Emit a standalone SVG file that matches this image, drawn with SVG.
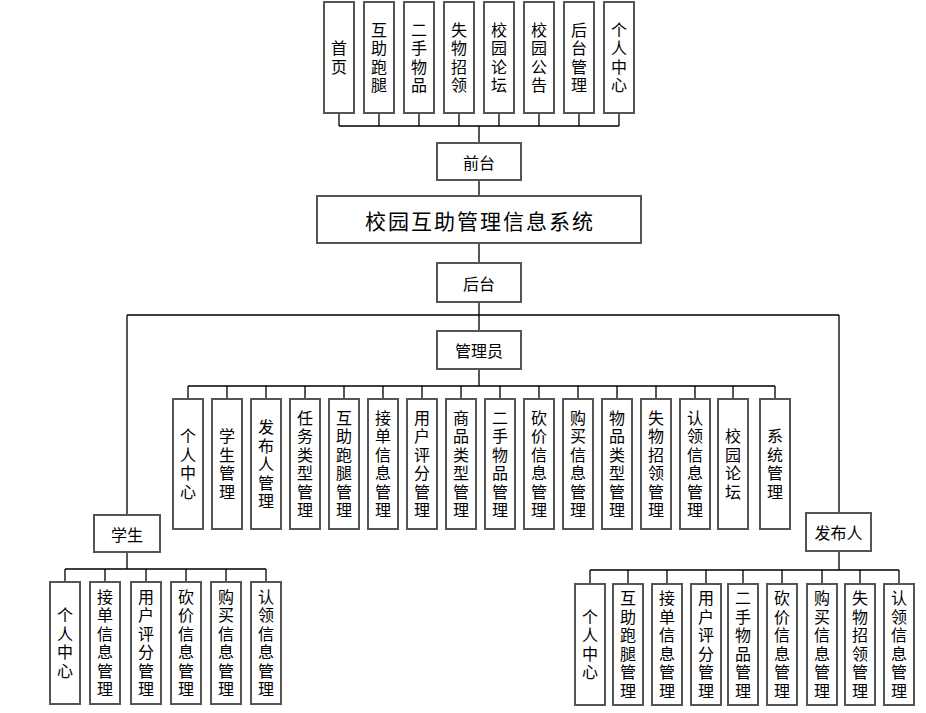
<svg xmlns="http://www.w3.org/2000/svg" width="926" height="713" viewBox="0 0 926 713">
<style>
.b{fill:#fff;stroke:#555;stroke-width:2}
.c{fill:none;stroke:#000;stroke-width:1.3}
text{font-family:"Noto Sans CJK SC","Noto Sans CJK JP",sans-serif;font-size:16px;fill:#000;text-anchor:middle}
.h{dominant-baseline:central}
.v{writing-mode:vertical-rl;letter-spacing:2.5px}
.t{font-size:21px;letter-spacing:2px}
</style>
<rect width="926" height="713" fill="#fff"/>
<g id="connectors" class="c">
<path d="M339 113V126M379 113V126M419 113V126M459 113V126M499 113V126M539 113V126M579 113V126M619 113V126M339 126H619M479 126V143M479 180V196M479 243V263M479 302V331"/>
<path d="M127 315H839M127 315V515M839 315V513"/>
<path d="M479 369V386M188 386H775M188 386V399M227 386V399M266 386V399M305 386V399M344 386V399M383 386V399M422 386V399M461 386V399M500 386V399M539 386V399M578 386V399M617 386V399M656 386V399M695 386V399M733 386V399M775 386V399"/>
<path d="M127 552V569M65 569H266M65 569V582M105 569V582M146 569V582M186 569V582M226 569V582M266 569V582"/>
<path d="M839 551V570M590 570H899M590 570V584M628 570V584M667 570V584M706 570V584M743 570V584M782 570V584M822 570V584M860 570V584M899 570V584"/>
</g>
<g id="top-首页"><rect class="b" x="324" y="2" width="30" height="111"/><text class="v" x="339" y="58.75">首页</text></g>
<g id="top-互助跑腿"><rect class="b" x="364" y="2" width="30" height="111"/><text class="v" x="379" y="58.75">互助跑腿</text></g>
<g id="top-二手物品"><rect class="b" x="404" y="2" width="30" height="111"/><text class="v" x="419" y="58.75">二手物品</text></g>
<g id="top-失物招领"><rect class="b" x="444" y="2" width="30" height="111"/><text class="v" x="459" y="58.75">失物招领</text></g>
<g id="top-校园论坛"><rect class="b" x="484" y="2" width="30" height="111"/><text class="v" x="499" y="58.75">校园论坛</text></g>
<g id="top-校园公告"><rect class="b" x="524" y="2" width="30" height="111"/><text class="v" x="539" y="58.75">校园公告</text></g>
<g id="top-后台管理"><rect class="b" x="564" y="2" width="30" height="111"/><text class="v" x="579" y="58.75">后台管理</text></g>
<g id="top-个人中心"><rect class="b" x="604" y="2" width="30" height="111"/><text class="v" x="619" y="58.75">个人中心</text></g>
<g id="qiantai"><rect class="b" x="437" y="143" width="84" height="37"/><text class="h" x="479" y="161.5">前台</text></g>
<g id="title"><rect class="b" x="317" y="196" width="324" height="47"/><text class="h t" x="480" y="219.5">校园互助管理信息系统</text></g>
<g id="houtai"><rect class="b" x="437" y="263" width="84" height="39"/><text class="h" x="479" y="282.5">后台</text></g>
<g id="admin"><rect class="b" x="437" y="331" width="84" height="38"/><text class="h" x="479" y="350">管理员</text></g>
<g id="a1"><rect class="b" x="173" y="399" width="30" height="130"/><text class="v" x="188" y="465.25">个人中心</text></g>
<g id="a2"><rect class="b" x="212" y="399" width="30" height="130"/><text class="v" x="227" y="465.25">学生管理</text></g>
<g id="a3"><rect class="b" x="251" y="399" width="30" height="130"/><text class="v" x="266" y="465.25">发布人管理</text></g>
<g id="a4"><rect class="b" x="290" y="399" width="30" height="130"/><text class="v" x="305" y="465.25">任务类型管理</text></g>
<g id="a5"><rect class="b" x="329" y="399" width="30" height="130"/><text class="v" x="344" y="465.25">互助跑腿管理</text></g>
<g id="a6"><rect class="b" x="368" y="399" width="30" height="130"/><text class="v" x="383" y="465.25">接单信息管理</text></g>
<g id="a7"><rect class="b" x="407" y="399" width="30" height="130"/><text class="v" x="422" y="465.25">用户评分管理</text></g>
<g id="a8"><rect class="b" x="446" y="399" width="30" height="130"/><text class="v" x="461" y="465.25">商品类型管理</text></g>
<g id="a9"><rect class="b" x="485" y="399" width="30" height="130"/><text class="v" x="500" y="465.25">二手物品管理</text></g>
<g id="a10"><rect class="b" x="524" y="399" width="30" height="130"/><text class="v" x="539" y="465.25">砍价信息管理</text></g>
<g id="a11"><rect class="b" x="563" y="399" width="30" height="130"/><text class="v" x="578" y="465.25">购买信息管理</text></g>
<g id="a12"><rect class="b" x="602" y="399" width="30" height="130"/><text class="v" x="617" y="465.25">物品类型管理</text></g>
<g id="a13"><rect class="b" x="641" y="399" width="30" height="130"/><text class="v" x="656" y="465.25">失物招领管理</text></g>
<g id="a14"><rect class="b" x="680" y="399" width="30" height="130"/><text class="v" x="695" y="465.25">认领信息管理</text></g>
<g id="a15"><rect class="b" x="718" y="399" width="30" height="130"/><text class="v" x="733" y="465.25">校园论坛</text></g>
<g id="a16"><rect class="b" x="760" y="399" width="30" height="130"/><text class="v" x="775" y="465.25">系统管理</text></g>
<g id="student"><rect class="b" x="94" y="515" width="66" height="37"/><text class="h" x="127" y="533.5">学生</text></g>
<g id="s1"><rect class="b" x="50" y="582" width="30" height="122"/><text class="v" x="65" y="644.25">个人中心</text></g>
<g id="s2"><rect class="b" x="90" y="582" width="30" height="122"/><text class="v" x="105" y="644.25">接单信息管理</text></g>
<g id="s3"><rect class="b" x="131" y="582" width="30" height="122"/><text class="v" x="146" y="644.25">用户评分管理</text></g>
<g id="s4"><rect class="b" x="171" y="582" width="30" height="122"/><text class="v" x="186" y="644.25">砍价信息管理</text></g>
<g id="s5"><rect class="b" x="211" y="582" width="30" height="122"/><text class="v" x="226" y="644.25">购买信息管理</text></g>
<g id="s6"><rect class="b" x="251" y="582" width="30" height="122"/><text class="v" x="266" y="644.25">认领信息管理</text></g>
<g id="publisher"><rect class="b" x="806" y="513" width="65" height="38"/><text class="h" x="838.5" y="532">发布人</text></g>
<g id="p1"><rect class="b" x="575" y="584" width="30" height="121"/><text class="v" x="590" y="645.75">个人中心</text></g>
<g id="p2"><rect class="b" x="613" y="584" width="30" height="121"/><text class="v" x="628" y="645.75">互助跑腿管理</text></g>
<g id="p3"><rect class="b" x="652" y="584" width="30" height="121"/><text class="v" x="667" y="645.75">接单信息管理</text></g>
<g id="p4"><rect class="b" x="691" y="584" width="30" height="121"/><text class="v" x="706" y="645.75">用户评分管理</text></g>
<g id="p5"><rect class="b" x="728" y="584" width="30" height="121"/><text class="v" x="743" y="645.75">二手物品管理</text></g>
<g id="p6"><rect class="b" x="767" y="584" width="30" height="121"/><text class="v" x="782" y="645.75">砍价信息管理</text></g>
<g id="p7"><rect class="b" x="807" y="584" width="30" height="121"/><text class="v" x="822" y="645.75">购买信息管理</text></g>
<g id="p8"><rect class="b" x="845" y="584" width="30" height="121"/><text class="v" x="860" y="645.75">失物招领管理</text></g>
<g id="p9"><rect class="b" x="884" y="584" width="30" height="121"/><text class="v" x="899" y="645.75">认领信息管理</text></g>
</svg>
